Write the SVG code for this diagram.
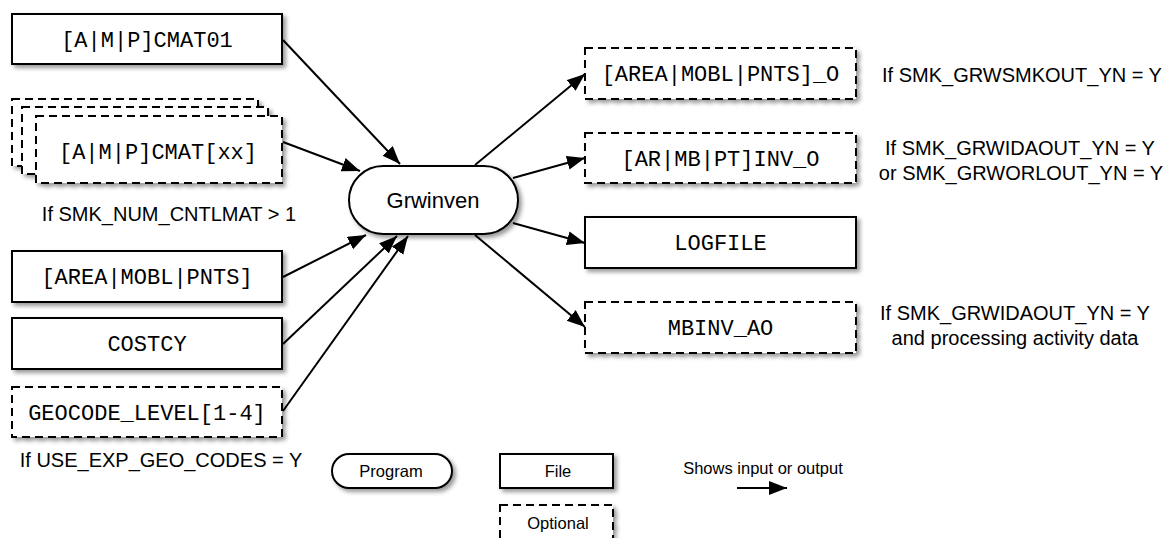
<svg xmlns="http://www.w3.org/2000/svg" width="1170" height="538" viewBox="0 0 1170 538">
  <style>
    .box { fill: #fff; stroke: #000; stroke-width: 2; filter: url(#sh); }
    .dash { stroke-dasharray: 8 5; }
    .mono { font-family: "Liberation Mono", "DejaVu Sans Mono", monospace; font-size: 22px; fill: #000; text-anchor: middle; }
    .sans { font-family: "Liberation Sans", Arial, sans-serif; fill: #000; text-anchor: middle; }
    .cond { font-size: 20px; }
    .leg { font-size: 16.5px; }
    .conn { stroke: #000; stroke-width: 2; fill: none; marker-end: url(#ah); }
  </style>
  <defs>
    <filter id="sh" x="-10%" y="-20%" width="125%" height="150%">
      <feDropShadow dx="3" dy="3" stdDeviation="2" flood-color="#000" flood-opacity="0.4"/>
    </filter>
    <marker id="ah" markerUnits="userSpaceOnUse" markerWidth="20" markerHeight="16" refX="18" refY="7" orient="auto">
      <path d="M0,0 L18,7 L0,14 z" fill="#000"/>
    </marker>
  </defs>
  <rect width="1170" height="538" fill="#fff"/>

  <g id="cmat01">
    <rect class="box" x="12" y="14" width="270" height="50"/>
    <text class="mono" x="147" y="47">[A|M|P]CMAT01</text>
  </g>
  <g id="cmatxx">
    <rect class="box dash" x="12" y="99" width="246" height="67"/>
    <rect class="box dash" x="22" y="107" width="246" height="67"/>
    <rect class="box dash" x="36" y="116" width="246" height="67"/>
    <text class="mono" x="158" y="159">[A|M|P]CMAT[xx]</text>
  </g>
  <text class="sans cond" x="169" y="221">If SMK_NUM_CNTLMAT &gt; 1</text>
  <g id="inv">
    <rect class="box" x="12" y="251" width="270" height="51"/>
    <text class="mono" x="147" y="284">[AREA|MOBL|PNTS]</text>
  </g>
  <g id="costcy">
    <rect class="box" x="12" y="318" width="270" height="51"/>
    <text class="mono" x="147" y="351">COSTCY</text>
  </g>
  <g id="geocode">
    <rect class="box dash" x="12" y="387" width="270" height="50"/>
    <text class="mono" x="147" y="420">GEOCODE_LEVEL[1-4]</text>
  </g>
  <text class="sans cond" x="161" y="467">If USE_EXP_GEO_CODES = Y</text>

  <g id="grwinven">
    <rect class="box" x="349" y="166" width="169" height="68" rx="34" ry="34"/>
    <text class="sans" x="433" y="208" font-size="22">Grwinven</text>
  </g>

  <g id="out_o">
    <rect class="box dash" x="585" y="48" width="271" height="51"/>
    <text class="mono" x="720.5" y="81">[AREA|MOBL|PNTS]_O</text>
  </g>
  <text class="sans cond" x="1022" y="82">If SMK_GRWSMKOUT_YN = Y</text>
  <g id="invo">
    <rect class="box dash" x="585" y="133" width="271" height="50"/>
    <text class="mono" x="720.5" y="166">[AR|MB|PT]INV_O</text>
  </g>
  <text class="sans cond" x="1020" y="155">If SMK_GRWIDAOUT_YN = Y</text>
  <text class="sans cond" x="1021" y="180">or SMK_GRWORLOUT_YN = Y</text>
  <g id="logfile">
    <rect class="box" x="585" y="217" width="271" height="51"/>
    <text class="mono" x="720.5" y="250">LOGFILE</text>
  </g>
  <g id="mbinv">
    <rect class="box dash" x="585" y="302" width="271" height="51"/>
    <text class="mono" x="720.5" y="335">MBINV_AO</text>
  </g>
  <text class="sans cond" x="1015" y="320">If SMK_GRWIDAOUT_YN = Y</text>
  <text class="sans cond" x="1015" y="345">and processing activity data</text>

  <g id="legend-program">
    <rect class="box" x="332" y="454" width="120" height="34" rx="17" ry="17"/>
    <text class="sans leg" x="391" y="477">Program</text>
  </g>
  <g id="legend-file">
    <rect class="box" x="500" y="454" width="113" height="34"/>
    <text class="sans leg" x="558" y="477">File</text>
  </g>
  <g id="legend-optional">
    <rect class="box dash" x="500" y="505" width="113" height="40"/>
    <text class="sans leg" x="558" y="529">Optional</text>
  </g>
  <text class="sans leg" x="763" y="474">Shows input or output</text>

  <g id="connectors">
    <line class="conn" x1="283" y1="40" x2="400" y2="164"/>
    <line class="conn" x1="283" y1="142" x2="360" y2="171"/>
    <line class="conn" x1="283" y1="277" x2="366" y2="235"/>
    <line class="conn" x1="283" y1="344" x2="397" y2="236"/>
    <line class="conn" x1="283" y1="411" x2="408" y2="236"/>
    <line class="conn" x1="475" y1="165" x2="585" y2="74"/>
    <line class="conn" x1="513" y1="178" x2="585" y2="158"/>
    <line class="conn" x1="513" y1="223" x2="585" y2="243"/>
    <line class="conn" x1="475" y1="235" x2="585" y2="327"/>
    <line class="conn" x1="737" y1="488" x2="787" y2="488"/>
  </g>
</svg>
